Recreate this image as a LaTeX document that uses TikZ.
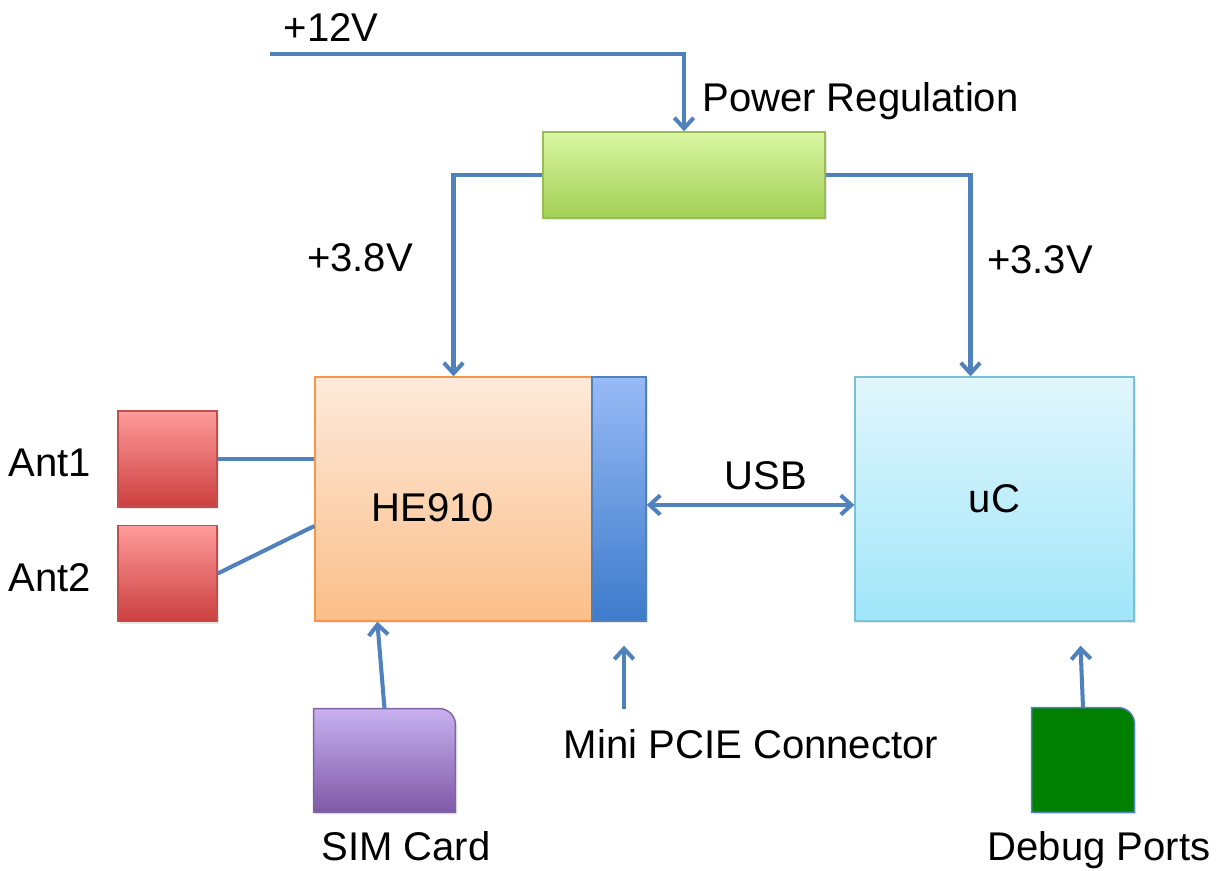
\documentclass[tikz,border=0pt]{standalone}
\usepackage{fontspec}
\setmainfont{Liberation Sans}
\usepackage{tikz}
\usetikzlibrary{positioning,calc,arrows.meta,shadows}
\usepackage{xcolor}
\definecolor{wireblue}{HTML}{4F81BD}
\definecolor{pwrtop}{HTML}{D9F6A2}
\definecolor{pwrbot}{HTML}{A3CF55}
\definecolor{pwredge}{HTML}{9BBB59}
\definecolor{hetop}{HTML}{FDEADB}
\definecolor{hebot}{HTML}{FBBE89}
\definecolor{heedge}{HTML}{F79646}
\definecolor{pcietop}{HTML}{98BAF6}
\definecolor{pciebot}{HTML}{3D7BCB}
\definecolor{uctop}{HTML}{E1F6FC}
\definecolor{ucbot}{HTML}{A0E6FA}
\definecolor{ucedge}{HTML}{78C2D8}
\definecolor{anttop}{HTML}{FF9B9B}
\definecolor{antbot}{HTML}{CC3F3F}
\definecolor{antedge}{HTML}{C0504D}
\definecolor{simtop}{HTML}{C8B1EF}
\definecolor{simbot}{HTML}{7E59A7}
\definecolor{simedge}{HTML}{8064A2}
\definecolor{dbggreen}{HTML}{008000}

\begin{document}
\begin{tikzpicture}[x=0.02cm,y=-0.02cm,
    box/.style={rectangle,draw,line width=0.8pt,inner sep=0pt,
        drop shadow={opacity=0.2,shadow xshift=1.2pt,shadow yshift=-1.2pt}},
    txt/.style={font=\fontsize{22.8}{27}\selectfont,inner sep=0pt},
    wire/.style={draw=wireblue,line width=2.3pt},
    tip/.style={wire,-{Straight Barb[length=6pt,width=11pt]}},
    tips/.style={wire,{Straight Barb[length=6pt,width=11pt]}-{Straight Barb[length=6pt,width=11pt]}}]
\useasboundingbox (0,0) rectangle (1220,871);

% blocks
\node (pwr) at (684,175) [box,draw=pwredge,top color=pwrtop,bottom color=pwrbot,minimum width=5.64cm,minimum height=1.72cm] {};
\node (he) at (453.5,499) [box,draw=heedge,top color=hetop,bottom color=hebot,minimum width=5.54cm,minimum height=4.88cm] {};
\node (pcie) at (619,499) [box,draw=wireblue,top color=pcietop,bottom color=pciebot,minimum width=1.08cm,minimum height=4.88cm] {};
\node (uc) at (994.5,499) [box,draw=ucedge,top color=uctop,bottom color=ucbot,minimum width=5.58cm,minimum height=4.88cm,txt] {uC};
\foreach \n/\y in {1/459,2/573.5} {
    \node (ant\n) at (167.5,\y) [box,draw=antedge,top color=anttop,bottom color=antbot,minimum width=1.98cm,minimum height=1.92cm] {};
}
\node (sim) at (384.5,760.5) [minimum width=2.82cm,minimum height=2.06cm,inner sep=0pt] {};
\node (dbg) at (1083,760) [minimum width=2.04cm,minimum height=2.08cm,inner sep=0pt] {};
\draw[draw=simedge,line width=0.8pt,top color=simtop,bottom color=simbot,drop shadow={opacity=0.2,shadow xshift=1.2pt,shadow yshift=-1.2pt}]
    (sim.south west) -- (sim.north west) -- ([xshift=-9pt]sim.north east) arc[start angle=90,end angle=0,radius=9pt] -- (sim.south east) -- cycle;
\draw[draw=wireblue,line width=0.8pt,fill=dbggreen,drop shadow={opacity=0.2,shadow xshift=1.2pt,shadow yshift=-1.2pt}]
    (dbg.south west) -- (dbg.north west) -- ([xshift=-9pt]dbg.north east) arc[start angle=90,end angle=0,radius=9pt] -- (dbg.south east) -- cycle;

% labels
\node (v12) at (331,28) [txt] {+12V};
\node (pwrlbl) at (702,112) [txt,anchor=base west] {Power Regulation};
\node (v38) at (360,258) [txt] {+3.8V};
\node (v33) at (1040,260) [txt] {+3.3V};
\node (usb) at (766,476) [txt] {USB};
\node (helbl) at (433,508) [txt] {HE910};
\node (a1lbl) at (50,463) [txt] {Ant1};
\node (a2lbl) at (50,578) [txt] {Ant2};
\node (simlbl) at (406,846) [txt] {SIM Card};
\node (pcielbl) at (751,744) [txt] {Mini PCIE Connector};
\node (dbglbl) at (1099,860) [txt,anchor=base] {Debug Ports};

% wires
\coordinate (in12) at (270,54);
\coordinate (pcietail) at (624,709);
\draw[tip] (in12) -| (pwr.north);
\draw[tip] (pwr.west) -| (he.north);
\draw[tip] (pwr.east) -| ($(uc.north)+(-24,0)$);
\draw[tips] ($(pcie.east)+(0,6)$) -- ($(uc.west)+(0,6)$);
\draw[wire] (ant1.east) -- (ant1.east -| he.west);
\draw[wire] (ant2.east) -- ($(he.west)+(0,27)$);
\draw[tip] (sim.north) -- ($(he.south west)+(63,0)$);
\draw[tip] (pcietail) -- ($(pcie.south)+(5,24)$);
\draw[tip] (dbg.north) -- ($(uc.south)+(86,24)$);
\end{tikzpicture}
\end{document}
